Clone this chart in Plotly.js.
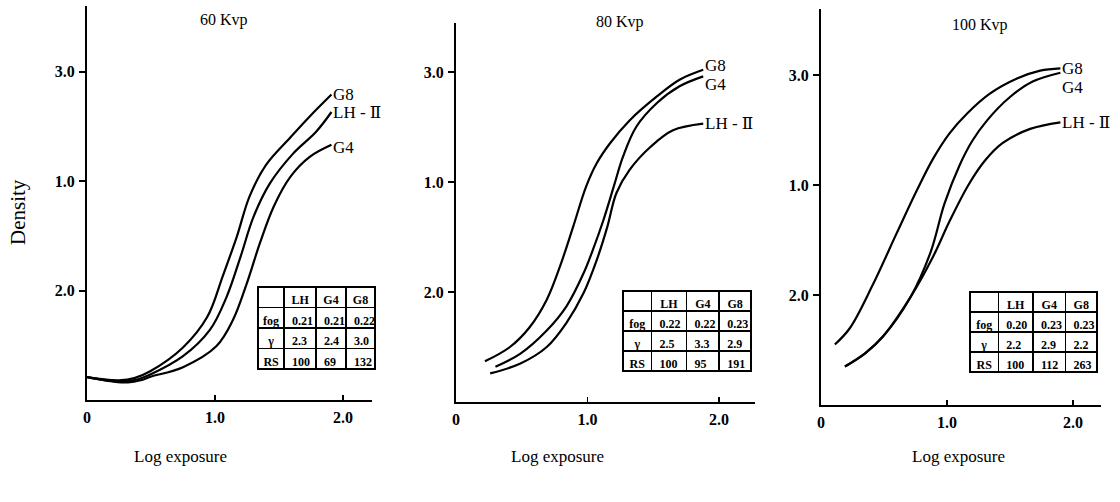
<!DOCTYPE html>
<html>
<head>
<meta charset="utf-8">
<script src="https://cdn.plot.ly/plotly-3.0.1.min.js"></script>
<style>
  html, body { margin: 0; padding: 0; background: #fff; }
  #chart { width: 1120px; height: 502px; }
</style>
</head>
<body>
<div id="chart"></div>
<script>
// Characteristic (H&D) curves of screen/film systems at three tube voltages.

const panelTitles = ['60 Kvp', '80 Kvp', '100 Kvp'];
const xTickVals = [0, 1, 2];
const xTickText = ['0', '1.0', '2.0'];
const yTickVals = [1, 2, 3];
const yTickText = ['2.0', '1.0', '3.0'];
const seriesNames = ['G8', 'LH - Ⅱ', 'G4'];

// 60 kVp
const kv60_G8_x = [0, 0.12, 0.25, 0.37, 0.49, 0.75, 0.94, 1.06, 1.17, 1.27, 1.40, 1.59, 1.74, 1.91];
const kv60_G8_y = [0.21, 0.19, 0.18, 0.20, 0.26, 0.48, 0.76, 1.13, 1.49, 1.86, 2.15, 2.40, 2.59, 2.79];
const kv60_LH_x = [0, 0.15, 0.28, 0.40, 0.49, 0.75, 0.96, 1.09, 1.20, 1.30, 1.43, 1.61, 1.79, 1.91];
const kv60_LH_y = [0.21, 0.18, 0.17, 0.19, 0.23, 0.40, 0.64, 0.94, 1.31, 1.67, 1.98, 2.25, 2.45, 2.63];
const kv60_G4_x = [0, 0.20, 0.32, 0.42, 0.49, 0.75, 1.01, 1.14, 1.25, 1.35, 1.46, 1.59, 1.74, 1.91];
const kv60_G4_y = [0.21, 0.17, 0.16, 0.18, 0.21, 0.30, 0.49, 0.73, 1.07, 1.43, 1.77, 2.04, 2.22, 2.33];

// 80 kVp
const kv80_G8_x = [0.22, 0.41, 0.56, 0.69, 0.79, 0.89, 0.99, 1.07, 1.17, 1.32, 1.53, 1.70, 1.88];
const kv80_G8_y = [0.37, 0.50, 0.68, 0.93, 1.23, 1.59, 1.96, 2.17, 2.35, 2.56, 2.78, 2.93, 3.02];
const kv80_G4_x = [0.30, 0.49, 0.69, 0.84, 0.97, 1.04, 1.12, 1.20, 1.27, 1.37, 1.53, 1.70, 1.88];
const kv80_G4_y = [0.32, 0.44, 0.65, 0.87, 1.17, 1.38, 1.65, 1.96, 2.23, 2.50, 2.72, 2.87, 2.96];
const kv80_LH_x = [0.26, 0.49, 0.69, 0.84, 0.97, 1.07, 1.15, 1.22, 1.32, 1.48, 1.65, 1.88];
const kv80_LH_y = [0.26, 0.35, 0.50, 0.72, 0.99, 1.29, 1.59, 1.90, 2.11, 2.32, 2.47, 2.53];

// 100 kVp
const kv100_G8_x = [0.11, 0.23, 0.41, 0.60, 0.76, 0.89, 1.02, 1.16, 1.34, 1.56, 1.74, 1.90];
const kv100_G8_y = [0.55, 0.70, 1.09, 1.56, 1.95, 2.24, 2.47, 2.65, 2.83, 2.97, 3.04, 3.06];
const kv100_G4_x = [0.19, 0.35, 0.49, 0.71, 0.87, 0.98, 1.10, 1.20, 1.32, 1.50, 1.68, 1.90];
const kv100_G4_y = [0.35, 0.47, 0.62, 0.98, 1.39, 1.83, 2.18, 2.40, 2.59, 2.80, 2.94, 3.02];
const kv100_LH_x = [0.19, 0.35, 0.49, 0.71, 0.89, 1.02, 1.17, 1.30, 1.44, 1.66, 1.90];
const kv100_LH_y = [0.35, 0.47, 0.62, 0.98, 1.35, 1.67, 2.00, 2.22, 2.38, 2.51, 2.57];

// Inset tables: fog, gamma, relative speed for LH, G4, G8
const tableColumns = ['LH', 'G4', 'G8'];
const tableRows = ['fog', 'γ', 'RS'];
const kv60_fog = ['0.21', '0.21', '0.22'];
const kv60_gamma = ['2.3', '2.4', '3.0'];
const kv60_rs = ['100', '69', '132'];
const kv80_fog = ['0.22', '0.22', '0.23'];
const kv80_gamma = ['2.5', '3.3', '2.9'];
const kv80_rs = ['100', '95', '191'];
const kv100_fog = ['0.20', '0.23', '0.23'];
const kv100_gamma = ['2.2', '2.9', '2.2'];
const kv100_rs = ['100', '112', '263'];

const W = 1120, H = 502;
const serif = '"Liberation Serif", "DejaVu Serif", serif';
const px = v => v / W;
const py = v => (H - v) / H;

// Pixel frame of each panel: origin, scale per unit, axis extent
const frames = [
  { x0: 87,  sx: 128,   xmax: 2.23, y0: 400, sy: 109.5, ymax: 3.6 },
  { x0: 456, sx: 131.5, xmax: 2.27, y0: 402, sy: 110,   ymax: 3.45 },
  { x0: 821, sx: 126,   xmax: 2.22, y0: 405, sy: 110,   ymax: 3.6 }
];

const panels = [
  { curves: [[kv60_G8_x, kv60_G8_y], [kv60_LH_x, kv60_LH_y], [kv60_G4_x, kv60_G4_y]],
    labelShift: [0, 0, -3],
    table: [kv60_fog, kv60_gamma, kv60_rs], tableBox: [258, 287, 376, 369],
    titleX: 224, titleY: 20, axisTitleX: 180 },
  { curves: [[kv80_G8_x, kv80_G8_y], [kv80_LH_x, kv80_LH_y], [kv80_G4_x, kv80_G4_y]],
    labelShift: [4, 0, -8],
    table: [kv80_fog, kv80_gamma, kv80_rs], tableBox: [623, 291, 752, 371],
    titleX: 620, titleY: 22, axisTitleX: 557 },
  { curves: [[kv100_G8_x, kv100_G8_y], [kv100_LH_x, kv100_LH_y], [kv100_G4_x, kv100_G4_y]],
    labelShift: [0, 0, -15],
    table: [kv100_fog, kv100_gamma, kv100_rs], tableBox: [970, 292, 1098, 372],
    titleX: 980, titleY: 25, axisTitleX: 958 }
];

const traces = [];
const annotations = [];
const layout = {
  width: W, height: H,
  margin: { l: 0, r: 0, t: 0, b: 0 },
  paper_bgcolor: '#fff', plot_bgcolor: 'rgba(0,0,0,0)',
  showlegend: false,
  font: { family: serif, color: '#000' }
};

panels.forEach((p, i) => {
  const f = frames[i];
  const n = i === 0 ? '' : String(i + 1);
  const xa = 'x' + n, ya = 'y' + n;

  layout['xaxis' + n] = {
    domain: [px(f.x0), px(f.x0 + f.sx * f.xmax)],
    range: [0, f.xmax], anchor: ya,
    showline: true, linewidth: 2, linecolor: '#000',
    showgrid: false, zeroline: false,
    tickmode: 'array', tickvals: xTickVals, ticktext: xTickText,
    ticks: 'inside', ticklen: 5, tickwidth: 1.5, tickcolor: '#000',
    tickfont: { family: serif, size: 16, weight: 'bold', color: '#000' },
    ticklabelstandoff: 2, fixedrange: true
  };
  layout['yaxis' + n] = {
    domain: [py(f.y0), py(f.y0 - f.sy * f.ymax)],
    range: [0, f.ymax], anchor: xa,
    showline: true, linewidth: 2, linecolor: '#000',
    showgrid: false, zeroline: false,
    tickmode: 'array', tickvals: yTickVals, ticktext: yTickText,
    ticks: 'outside', ticklen: 6, tickwidth: 2, tickcolor: '#000',
    tickfont: { family: serif, size: 16, weight: 'bold', color: '#000' },
    ticklabelstandoff: 1, fixedrange: true
  };

  p.curves.forEach(([xs, ys], k) => {
    traces.push({
      type: 'scatter', mode: 'lines', x: xs, y: ys,
      xaxis: xa, yaxis: ya, name: seriesNames[k],
      line: { color: '#000', width: 2.2, shape: 'spline', smoothing: 1 },
      hoverinfo: 'skip'
    });
    annotations.push({
      xref: xa, yref: ya, x: xs[xs.length - 1], y: ys[ys.length - 1],
      text: seriesNames[k], showarrow: false, xanchor: 'left', yanchor: 'middle',
      xshift: 0, yshift: p.labelShift[k],
      font: { family: serif, size: 17, color: '#000' }
    });
  });

  // Inset table
  const [tl, tt, tr, tb] = p.tableBox;
  const cellH = (tb - tt) / 4;
  traces.push({
    type: 'table',
    domain: { x: [px(tl), px(tr)], y: [py(tb + 4), py(tt)] },
    columnwidth: [27, 33, 31, 30],
    header: {
      values: [''].concat(tableColumns),
      align: 'center', height: cellH,
      line: { color: '#000', width: 1.6 }, fill: { color: '#fff' },
      font: { family: serif, size: 12, weight: 'bold', color: '#000' }
    },
    cells: {
      values: [tableRows].concat(tableColumns.map((_, c) => p.table.map(r => r[c]))),
      align: ['center', 'left', 'left', 'left'], height: cellH,
      line: { color: '#000', width: 1.6 }, fill: { color: '#fff' },
      font: { family: serif, size: 12, weight: 'bold', color: '#000' }
    }
  });

  annotations.push({
    xref: 'paper', yref: 'paper', x: px(p.titleX), y: py(p.titleY),
    text: panelTitles[i], showarrow: false, xanchor: 'center', yanchor: 'middle',
    font: { family: serif, size: 16, color: '#000' }
  });
  annotations.push({
    xref: 'paper', yref: 'paper', x: px(p.axisTitleX), y: py(456),
    text: 'Log exposure', showarrow: false, xanchor: 'center', yanchor: 'middle',
    font: { family: serif, size: 17, color: '#000' }
  });
});

annotations.push({
  xref: 'paper', yref: 'paper', x: px(18), y: py(212),
  text: 'Density', showarrow: false, textangle: -90,
  xanchor: 'center', yanchor: 'middle',
  font: { family: serif, size: 21, color: '#000' }
});

layout.annotations = annotations;

Plotly.newPlot('chart', traces, layout, { displayModeBar: false, staticPlot: true });
</script>
</body>
</html>
